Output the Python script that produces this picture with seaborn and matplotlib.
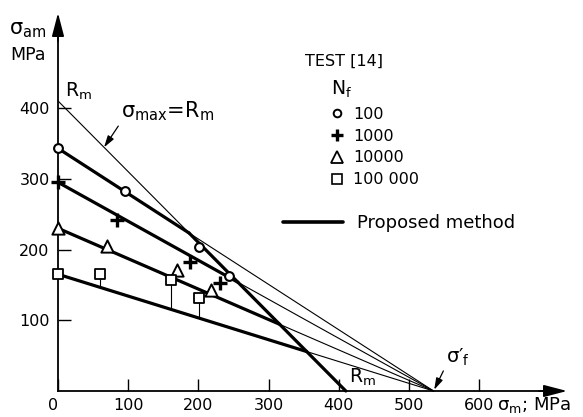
import matplotlib
matplotlib.use("Agg")
import matplotlib.pyplot as plt
import seaborn as sns
import pandas as pd
from matplotlib import font_manager
from matplotlib.lines import Line2D

# ---------------- data ----------------
Rm = 410          # ultimate strength, MPa
sigma_f = 535     # fatigue strength coefficient sigma_f', MPa
levels = ["100", "1000", "10000", "100 000"]
intercepts = [343, 295, 230, 165]   # proposed-method sigma_am at sigma_m = 0

n100_m = [0, 95, 201, 244]
n100_a = [343, 283, 204, 163]
n1000_m = [0, 84, 188, 231]
n1000_a = [295, 241, 183, 153]
n10000_m = [0, 70, 170, 218]
n10000_a = [230, 205, 171, 143]
n100000_m = [0, 60, 161, 201]
n100000_a = [165, 165, 157, 131]

xticks = [0, 100, 200, 300, 400, 500, 600]
yticks = [100, 200, 300, 400]

# ---------------- style ----------------
sns.set_theme(style="white")
names = {f.name for f in font_manager.fontManager.ttflist}
if "Liberation Sans Narrow" in names:
    FONT = "Liberation Sans Narrow"
    FS = 13
else:
    FONT = "DejaVu Sans"
    FS = 11.5
plt.rcParams["font.family"] = [FONT, "DejaVu Sans"]
plt.rcParams["mathtext.fontset"] = "custom"
plt.rcParams["mathtext.rm"] = FONT
plt.rcParams["mathtext.it"] = FONT
plt.rcParams["mathtext.default"] = "rm"
for k in ["text.color", "axes.labelcolor", "xtick.color", "ytick.color",
          "axes.edgecolor"]:
    plt.rcParams[k] = "black"

W, H = 583, 417
X0, Y0, SX, SY = 58, 391, 0.702, 0.7075   # pixel mapping of the plot

fig = plt.figure(figsize=(W / 100, H / 100), dpi=100)
ax = fig.add_axes([0, 0, 1, 1])
ax.set_xlim(-X0 / SX, (W - X0) / SX)
ax.set_ylim(-(H - Y0) / SY, Y0 / SY)
ax.set_facecolor("white")


def d(xp, yp):
    """pixel -> data coordinates"""
    return ((xp - X0) / SX, (Y0 - yp) / SY)


def fpx(xp, yp):
    return (xp / W, 1 - yp / H)


THICK = 2.3
THIN = 0.8

# ---------------- proposed-method lines ----------------
kinks = []
for a0 in intercepts:
    xk = (Rm - a0) / (1 - a0 / sigma_f)
    yk = a0 * (1 - xk / sigma_f)
    kinks.append((xk, yk))
    sns.lineplot(x=[0, xk], y=[a0, yk], ax=ax, color="black", lw=THICK,
                 sort=False, estimator=None, legend=False)
    sns.lineplot(x=[xk, sigma_f], y=[yk, 0], ax=ax, color="black", lw=THIN,
                 sort=False, estimator=None, legend=False)

# sigma_max = Rm line (thin), thick from first kink down to Rm
sns.lineplot(x=[0, Rm], y=[Rm, 0], ax=ax, color="black", lw=THIN,
             sort=False, estimator=None, legend=False)
sns.lineplot(x=[kinks[0][0], Rm], y=[kinks[0][1], 0], ax=ax, color="black",
             lw=THICK, sort=False, estimator=None, legend=False)

# stems of the 100 000 squares down to their line
a0_last = intercepts[3]
for xm, ya in zip(n100000_m[1:], n100000_a[1:]):
    ax.vlines(xm, a0_last * (1 - xm / sigma_f), ya, color="black", lw=THIN)

# ---------------- test points ----------------
sns.scatterplot(x=n100_m, y=n100_a, ax=ax, marker="o", s=40, color="white",
                edgecolor="black", linewidth=1.5, zorder=5, clip_on=False)
sns.scatterplot(x=n1000_m, y=n1000_a, ax=ax, marker="+", s=90, color="black",
                linewidth=2.4, zorder=5, clip_on=False)
sns.scatterplot(x=n10000_m, y=n10000_a, ax=ax, marker="^", s=78, color="white",
                edgecolor="black", linewidth=1.4, zorder=5, clip_on=False)
sns.scatterplot(x=n100000_m, y=n100000_a, ax=ax, marker="s", s=50, color="white",
                edgecolor="black", linewidth=1.3, zorder=5, clip_on=False)

# ---------------- axes ----------------
for s in ["top", "right"]:
    ax.spines[s].set_visible(False)
ax.spines["left"].set_position(("data", 0))
ax.spines["bottom"].set_position(("data", 0))
xend = (567 - X0) / SX
yend = (Y0 - 13) / SY
ax.spines["left"].set_bounds(0, yend - 10)
ax.spines["bottom"].set_bounds(0, xend - 10)
for s in ["left", "bottom"]:
    ax.spines[s].set_linewidth(1.3)
    ax.spines[s].set_color("black")
arrow = dict(arrowstyle="-|>,head_length=0.65,head_width=0.17", color="black",
             lw=1.2, shrinkA=0, shrinkB=0, mutation_scale=22)
ax.annotate("", xy=(xend, 0), xytext=(xend - 40, 0), arrowprops=arrow)
ax.annotate("", xy=(0, yend), xytext=(0, yend - 40), arrowprops=arrow)

ax.set_xticks(xticks)
ax.set_yticks(yticks)
ax.set_xticklabels([str(v) for v in xticks])
ax.set_yticklabels([str(v) for v in yticks])
ax.xaxis.get_ticklabels()[0].set_horizontalalignment("right")
ax.tick_params(axis="both", direction="in", length=9, width=1.0,
               colors="black", labelcolor="black", labelsize=FS)
ax.tick_params(axis="y", pad=6, left=True)
ax.tick_params(axis="x", pad=5, bottom=True)
ax.grid(False)

# ---------------- texts ----------------
BIG = FS + 2.5
fig.text(*fpx(9, 30), "σ$_{am}$", fontsize=BIG + 1, ha="left", va="center", color="black")
fig.text(*fpx(10, 55), "MPa", fontsize=FS + 1, ha="left", va="center", color="black")
fig.text(*fpx(497, 405), "σ$_m$; MPa", fontsize=FS + 1.5, ha="left", va="center", color="black")
fig.text(*fpx(65, 91), "R$_m$", fontsize=FS + 2, ha="left", va="center", color="black")
fig.text(*fpx(349, 377), "R$_m$", fontsize=FS + 2, ha="left", va="center", color="black")
fig.text(*fpx(305, 61), "TEST [14]", fontsize=FS, ha="left", va="center", color="black")
fig.text(*fpx(331, 89), "N$_f$", fontsize=FS + 2, ha="left", va="center", color="black")

ax.annotate("σ$_{max}$=R$_m$", xy=(Rm * 0.16, Rm * 0.84), xytext=d(121, 111),
            fontsize=BIG + 1, ha="left", va="center", color="black",
            arrowprops=dict(arrowstyle="-|>,head_length=0.5,head_width=0.15",
                            color="black", lw=0.9, relpos=(0.02, 0.15),
                            shrinkA=0, shrinkB=0, mutation_scale=14))
ax.annotate("σ\u2032$_f$", xy=(sigma_f, 0), xytext=d(446, 357),
            fontsize=BIG, ha="left", va="center", color="black",
            arrowprops=dict(arrowstyle="-|>,head_length=0.5,head_width=0.15",
                            color="black", lw=0.9, relpos=(0.0, 0.1),
                            shrinkA=0, shrinkB=1, mutation_scale=14))

# ---------------- legends ----------------
handles = [
    Line2D([], [], ls="none", marker="o", mfc="white", mec="black", ms=5.5, mew=1.4),
    Line2D([], [], ls="none", marker="+", color="black", ms=9, mew=2.4),
    Line2D([], [], ls="none", marker="^", mfc="white", mec="black", ms=8, mew=1.3),
    Line2D([], [], ls="none", marker="s", mfc="white", mec="black", ms=6.5, mew=1.2),
]
leg1 = ax.legend(handles, levels, loc="upper left", bbox_to_anchor=fpx(329, 107),
                 bbox_transform=fig.transFigure, frameon=False, fontsize=FS,
                 handlelength=1.0, handletextpad=0.5, labelspacing=0.42,
                 borderpad=0, borderaxespad=0, labelcolor="black")
ax.add_artist(leg1)
PFS = FS + 1.5
fs_px = PFS * 100 / 72
ax.legend([Line2D([], [], color="black", lw=THICK + 0.3)], ["Proposed method"],
          loc="upper left", bbox_to_anchor=fpx(283, 214),
          bbox_transform=fig.transFigure, frameon=False, fontsize=PFS,
          handlelength=60 / fs_px, handletextpad=14 / fs_px,
          borderpad=0, borderaxespad=0, labelcolor="black")

fig.savefig("out.png", dpi=100, facecolor="white")
